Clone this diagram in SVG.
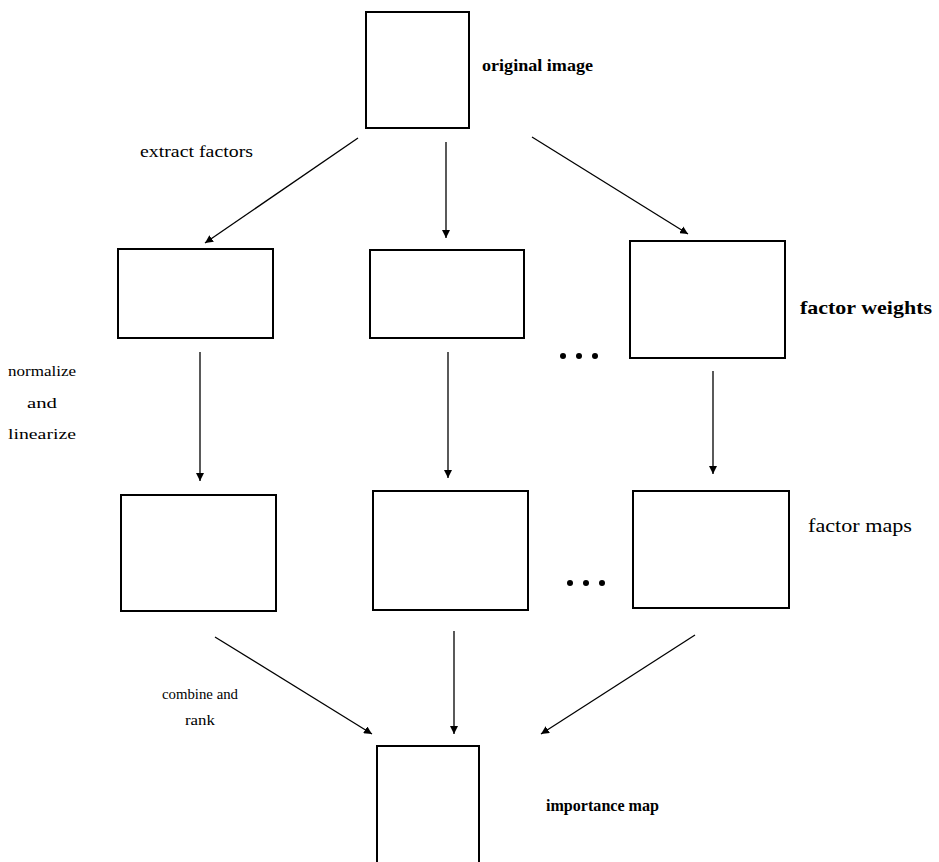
<svg xmlns="http://www.w3.org/2000/svg" width="939" height="862" viewBox="0 0 939 862">
<defs>
<marker id="ah" viewBox="0 0 10 10" refX="10" refY="5" markerWidth="8" markerHeight="8" markerUnits="userSpaceOnUse" orient="auto">
<path d="M0,0 L10,5 L0,10 z" fill="#000"/>
</marker>
<style>
.box{fill:#fff;stroke:#000;stroke-width:2}
.arr{stroke:#000;stroke-width:1.3;fill:none;marker-end:url(#ah)}
.t{font-family:"Liberation Serif","Times New Roman",serif;fill:#000}
.b{font-weight:bold}
.dot{fill:#000}
</style>
</defs>
<rect width="939" height="862" fill="#fff"/>
<g id="n-original">
<rect class="box" x="366" y="12" width="103" height="116"/>
<text class="t b" x="482" y="71" font-size="17" textLength="111" lengthAdjust="spacingAndGlyphs">original image</text>
</g>
<g id="n-w1"><rect class="box" x="118" y="249" width="155" height="89"/></g>
<g id="n-w2"><rect class="box" x="370" y="250" width="154" height="88"/></g>
<g id="n-w3">
<rect class="box" x="630" y="241" width="155" height="117"/>
<text class="t b" x="800" y="314" font-size="19" textLength="132" lengthAdjust="spacingAndGlyphs">factor weights</text>
</g>
<g id="dots1"><circle class="dot" cx="563" cy="356" r="3"/><circle class="dot" cx="579" cy="356" r="3"/><circle class="dot" cx="595" cy="356" r="3"/></g>
<g id="n-m1"><rect class="box" x="121" y="495" width="155" height="116"/></g>
<g id="n-m2"><rect class="box" x="373" y="491" width="155" height="119"/></g>
<g id="n-m3">
<rect class="box" x="633" y="491" width="156" height="117"/>
<text class="t" x="808" y="532" font-size="19" textLength="104" lengthAdjust="spacingAndGlyphs">factor maps</text>
</g>
<g id="dots2"><circle class="dot" cx="570" cy="583" r="3"/><circle class="dot" cx="586" cy="583" r="3"/><circle class="dot" cx="602" cy="583" r="3"/></g>
<g id="n-imp">
<rect class="box" x="377" y="746" width="102" height="130"/>
<text class="t b" x="546" y="811" font-size="16" textLength="113" lengthAdjust="spacingAndGlyphs">importance map</text>
</g>
<g id="labels">
<text class="t" x="140" y="157" font-size="17" textLength="113" lengthAdjust="spacingAndGlyphs">extract factors</text>
<text class="t" x="42" y="376" font-size="15" text-anchor="middle" textLength="68" lengthAdjust="spacingAndGlyphs">normalize</text>
<text class="t" x="42" y="408" font-size="15" text-anchor="middle" textLength="30" lengthAdjust="spacingAndGlyphs">and</text>
<text class="t" x="42" y="439" font-size="15" text-anchor="middle" textLength="68" lengthAdjust="spacingAndGlyphs">linearize</text>
<text class="t" x="200" y="699" font-size="15" text-anchor="middle" textLength="76" lengthAdjust="spacingAndGlyphs">combine and</text>
<text class="t" x="200" y="725" font-size="15" text-anchor="middle" textLength="30" lengthAdjust="spacingAndGlyphs">rank</text>
</g>
<g id="connectors">
<line class="arr" x1="358" y1="138" x2="205" y2="243"/>
<line class="arr" x1="446" y1="142" x2="446" y2="238"/>
<line class="arr" x1="532" y1="137" x2="688" y2="234"/>
<line class="arr" x1="200" y1="352" x2="200" y2="481"/>
<line class="arr" x1="448" y1="352" x2="448" y2="478"/>
<line class="arr" x1="713" y1="371" x2="713" y2="474"/>
<line class="arr" x1="215" y1="637" x2="372" y2="734"/>
<line class="arr" x1="454" y1="631" x2="454" y2="734"/>
<line class="arr" x1="695" y1="635" x2="541" y2="734"/>
</g>
</svg>
